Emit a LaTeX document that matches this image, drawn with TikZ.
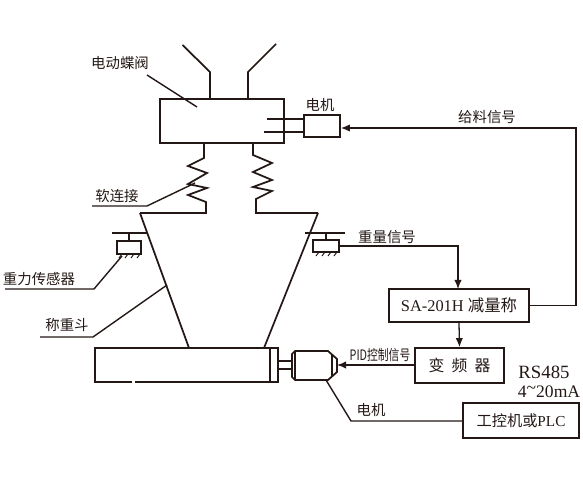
\documentclass[tikz,border=0pt]{standalone}
\usepackage{fontspec}
\usepackage{graphicx}
\setmainfont{Liberation Serif}
\newfontfamily\cjk{Noto Sans CJK SC}
\usetikzlibrary{arrows.meta}
\definecolor{inkline}{HTML}{231815}
\begin{document}
\begin{tikzpicture}[
    x=0.03cm, y=-0.03cm,
    every path/.style={color=inkline},
    wall/.style={draw=inkline, line width=1.5pt, line join=miter},
    thin wall/.style={draw=inkline, line width=1.1pt},
    leader/.style={draw=inkline, line width=1.2pt},
    unit/.style={rectangle, draw=inkline, line width=1.5pt, inner sep=0pt, text=inkline},
    arrow/.style={draw=inkline, line width=1.1pt, -{Latex[length=2.7mm, width=2.2mm]}},
    label/.style={font=\cjk\fontsize{12.3}{13}\selectfont, text=inkline, inner sep=0pt}
]
\useasboundingbox (0,0) rectangle (583,481);
% Valve, motor and inlets
\node[unit, minimum width=3.72cm, minimum height=1.32cm] (valve) at (222,121) {};
\node[unit, minimum width=1.08cm, minimum height=0.66cm] (valvemotor) at (322,126) {};
\node[label] (valvetext) at (120,63) {电动蝶阀};
\node[label] (valvemotortext) at (320,105) {电机};
\draw[wall] (182.5,45) -- (210,72) -- (210,99);
\draw[wall] (276,44) -- (248,72) -- (248,99);
\draw[leader] (147,75) -- (197,107);
\draw[thin wall] (267,119) -- (304,119);
\draw[thin wall] (264,132) -- (304,132);
% Soft joints
\draw[wall] (204,143) -- (204,158) -- (188,166) -- (207,173) -- (188,184) -- (207,188) -- (188,195) -- (206,202) -- (206,213) -- (140,213);
\draw[wall] (253,143) -- (253,155) -- (272,163) -- (253,172) -- (272,180) -- (253,187) -- (272,191) -- (256,199) -- (256,213) -- (318,213);
\node[label] (jointtext) at (117,196) {软连接};
\draw[leader] (92,206) -- (147,206) -- (195,183);
% Hopper
\draw[wall] (140,213) -- (189,348);
\draw[wall] (318,213) -- (264,348);
\node[label] (hoppertext) at (67,325) {称重斗};
\draw[leader] (40,337) -- (93,337) -- (167,285);
% Load cells
\node[unit, minimum width=0.72cm, minimum height=0.39cm] (cellL) at (129,247.5) {};
\node[unit, minimum width=0.78cm, minimum height=0.36cm] (cellR) at (326,246) {};
\draw[thin wall] (112,233) -- (147,233);
\draw[thin wall] (129,233) -- (cellL.north);
\draw[thin wall] (305,233) -- (345,233);
\draw[thin wall] (326,233) -- (cellR.north);
\foreach \x in {122,128,134,140} \draw[line width=0.8pt] (\x,254) -- (\x-3,258);
\foreach \x in {319,325,331,337} \draw[line width=0.8pt] (\x,252) -- (\x-3,256);
\node[label] (celltext) at (39,279) {重力传感器};
\draw[leader] (122,256) -- (94,289) -- (5,289);
\node[label] (weighttext) at (387,237) {重量信号};
% Belt feeder
\draw[wall] (132,382) -- (95,382) -- (95,348) -- (278,348) -- (278,382) -- (135,382);
\draw[wall] (270,348) -- (270,382);
\draw[thin wall] (278,361) -- (292,361);
\draw[thin wall] (278,369) -- (292,369);
% Feeder motor
\draw[wall] (295,351) -- (328,351) -- (337,359) -- (337,372) -- (328,380) -- (295,380) -- (292,377) -- (292,354) -- cycle;
\draw[thin wall] (295,351) -- (295,380);
\draw[thin wall] (332,355) -- (332,376);
\coordinate (feedmotor) at (337,365);
\coordinate (feedfoot) at (326,380);
% Control units
\node[unit, minimum width=4.2cm, minimum height=0.99cm, font=\fontsize{14}{15}\selectfont] (scale) at (459,305.5) {SA-201H {\cjk 减量称}};
\node[unit, minimum width=2.67cm, minimum height=1.05cm, font=\cjk\fontsize{13.5}{14}\selectfont] (inverter) at (459.5,365.5) {变\hspace{0.45em}频\hspace{0.45em}器};
\node[unit, minimum width=3.48cm, minimum height=1.05cm, font=\fontsize{13}{14}\selectfont] (ipc) at (521,420.5) {{\cjk 工控机或}PLC};
\node[label, font=\fontsize{16}{17}\selectfont] (rstext) at (544,372) {RS485};
\node[label, font=\fontsize{15}{16}\selectfont] (matext) at (549,392) {4\raisebox{0.25em}{\textasciitilde}20mA};
\node[label] (feedtext) at (487,117) {给料信号};
\node[label] (pidtext) at (380,355) {\scalebox{0.75}[1]{PID{\cjk 控制信号}}};
\node[label] (ipctext) at (371,410) {电机};
% Signal lines
\coordinate (weighttop) at (458,246);
\coordinate (feedbottom) at (576,305.5);
\coordinate (feedtop) at (576,128);
\coordinate (ipcbend) at (351,421);
\draw[arrow] (cellR.east) -- (weighttop) -- (458,289);
\draw[arrow] (scale.south) -- (inverter.north);
\draw[arrow] (inverter.west |- feedmotor) -- (feedmotor);
\draw[arrow] (scale.east) -- (feedbottom) -- (feedtop) -- (valvemotor.east |- feedtop);
\draw[leader] (feedfoot) -- (ipcbend) -- (ipc.west |- ipcbend);
\end{tikzpicture}
\end{document}
